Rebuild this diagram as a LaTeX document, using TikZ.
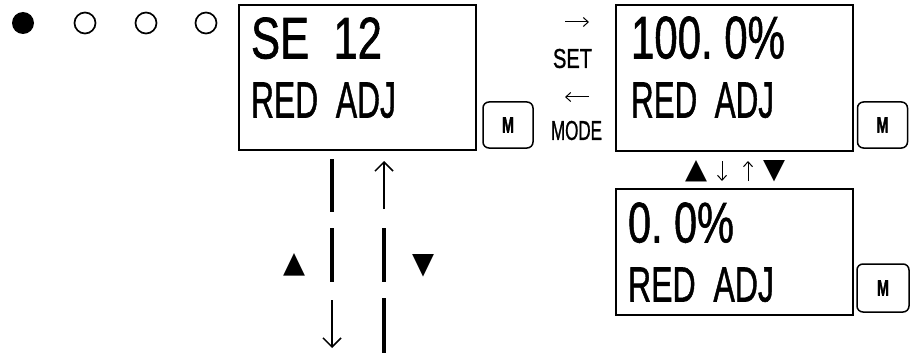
\documentclass[tikz,border=0pt]{standalone}
\usepackage{graphicx}
\usepackage{fontspec}
\setmainfont{Liberation Sans}
\newfontfamily\lcdfont[FakeBold=1.2]{Liberation Sans}
\newfontfamily\btnfont[FakeBold=2.5]{Liberation Sans Bold}
\newfontfamily\symfont{DejaVu Sans}
\usetikzlibrary{arrows.meta}
\newcommand{\fitT}[3]{\resizebox{#1pt}{#2pt}{#3}}
\tikzset{
  x=1pt,y=-1pt,
  lcd/.style={draw,line width=1.7pt,minimum width=#1,inner sep=0pt},
  btn/.style={draw,line width=1.5pt,rounded corners=6pt,inner sep=0pt,minimum width=50pt,minimum height=46pt},
  txt/.style={anchor=south west,inner sep=0pt,outer sep=0pt,font=\lcdfont},
  ctr/.style={anchor=center,inner sep=0pt,outer sep=0pt},
  dot/.style={draw,circle,line width=1.7pt,minimum size=21pt,inner sep=0pt},
  bar/.style={line width=4pt},
  thinarr/.style={line width=1.5pt,-{Straight Barb[length=9pt,width=18pt,line width=1.5pt]}},
  smallarr/.style={line width=1pt,-{Straight Barb[length=5pt,width=9pt,line width=1pt]}},
}
\begin{document}
\begin{tikzpicture}
\useasboundingbox (0,0) rectangle (914,353);
% dots
\node[circle,fill=black,minimum size=22pt,inner sep=0pt] (d1) at (23,23) {};
\node[dot] (d2) at (85,23) {};
\node[dot] (d3) at (146,23) {};
\node[dot] (d4) at (206,23) {};
% boxes
\node[lcd=237pt,minimum height=145pt] (b1) at (357.5,77.5) {};
\node[lcd=237pt,minimum height=146pt] (b2) at (734.5,78) {};
\node[lcd=237pt,minimum height=126pt] (b3) at (734.5,252) {};
% buttons
\node[btn] (m1) at (508,125) {\fitT{12}{15}{\btnfont M}};
\node[btn] (m2) at (882.5,125) {\fitT{12}{15}{\btnfont M}};
\node[btn,minimum width=52pt,minimum height=48pt] (m3) at (883,288) {\fitT{12}{15}{\btnfont M}};
% texts box 1
\node[txt] (t1a) at (251,59) {\fitT{131}{41}{SE\ \ 12}};
\node[txt] (t1b) at (251,118) {\fitT{145}{35}{RED\ \ ADJ}};
% texts box 2
\node[txt] (t2a) at (631,59) {\fitT{154}{42}{100.\ 0\%}};
\node[txt] (t2b) at (631,118) {\fitT{143}{35}{RED\ \ ADJ}};
% texts box 3
\node[txt] (t3a) at (628,243) {\fitT{106}{40}{0.\ 0\%}};
\node[txt] (t3b) at (628,302) {\fitT{146}{34}{RED\ \ ADJ}};
% SET / MODE
\coordinate (sa1) at (565,22);
\coordinate (sa2) at (589,22);
\draw[smallarr] (sa1) -- (sa2);
\node[ctr,font=\lcdfont] (set) at (572.5,58.5) {\fitT{39}{19}{SET}};
\coordinate (ma1) at (589,97);
\coordinate (ma2) at (565,97);
\draw[smallarr] (ma1) -- (ma2);
\node[ctr,font=\lcdfont] (mode) at (576.5,130.5) {\fitT{51}{19}{MODE}};
% row between box 2 and 3
\node[ctr] (up2) at (696,171) {\fitT{22}{18}{\symfont ▲}};
\node[ctr] (dn2) at (774,171) {\fitT{22}{18}{\symfont ▼}};
\coordinate (a1s) at (722,161);
\coordinate (a1e) at (722,181);
\draw[smallarr] (a1s) -- (a1e);
\coordinate (a2s) at (748,181);
\coordinate (a2e) at (748,161);
\draw[smallarr] (a2s) -- (a2e);
% column under box 1
\coordinate (l1) at (332,159); \coordinate (l2) at (332,212);
\coordinate (l3) at (332,228); \coordinate (l4) at (332,282);
\coordinate (l5) at (332,300); \coordinate (l6) at (332,348);
\draw[bar] (l1) -- (l2);
\draw[bar] (l3) -- (l4);
\draw[thinarr] (l5) -- (l6);
\coordinate (r1) at (384,209); \coordinate (r2) at (384,161);
\coordinate (r3) at (384,228); \coordinate (r4) at (384,282);
\coordinate (r5) at (384,298); \coordinate (r6) at (384,353);
\draw[thinarr] (r1) -- (r2);
\draw[bar] (r3) -- (r4);
\draw[bar] (r5) -- (r6);
\node[ctr] (upL) at (294,264.5) {\fitT{22}{19}{\symfont ▲}};
\node[ctr] (dnR) at (423,265.5) {\fitT{22}{19}{\symfont ▼}};
\end{tikzpicture}
\end{document}
